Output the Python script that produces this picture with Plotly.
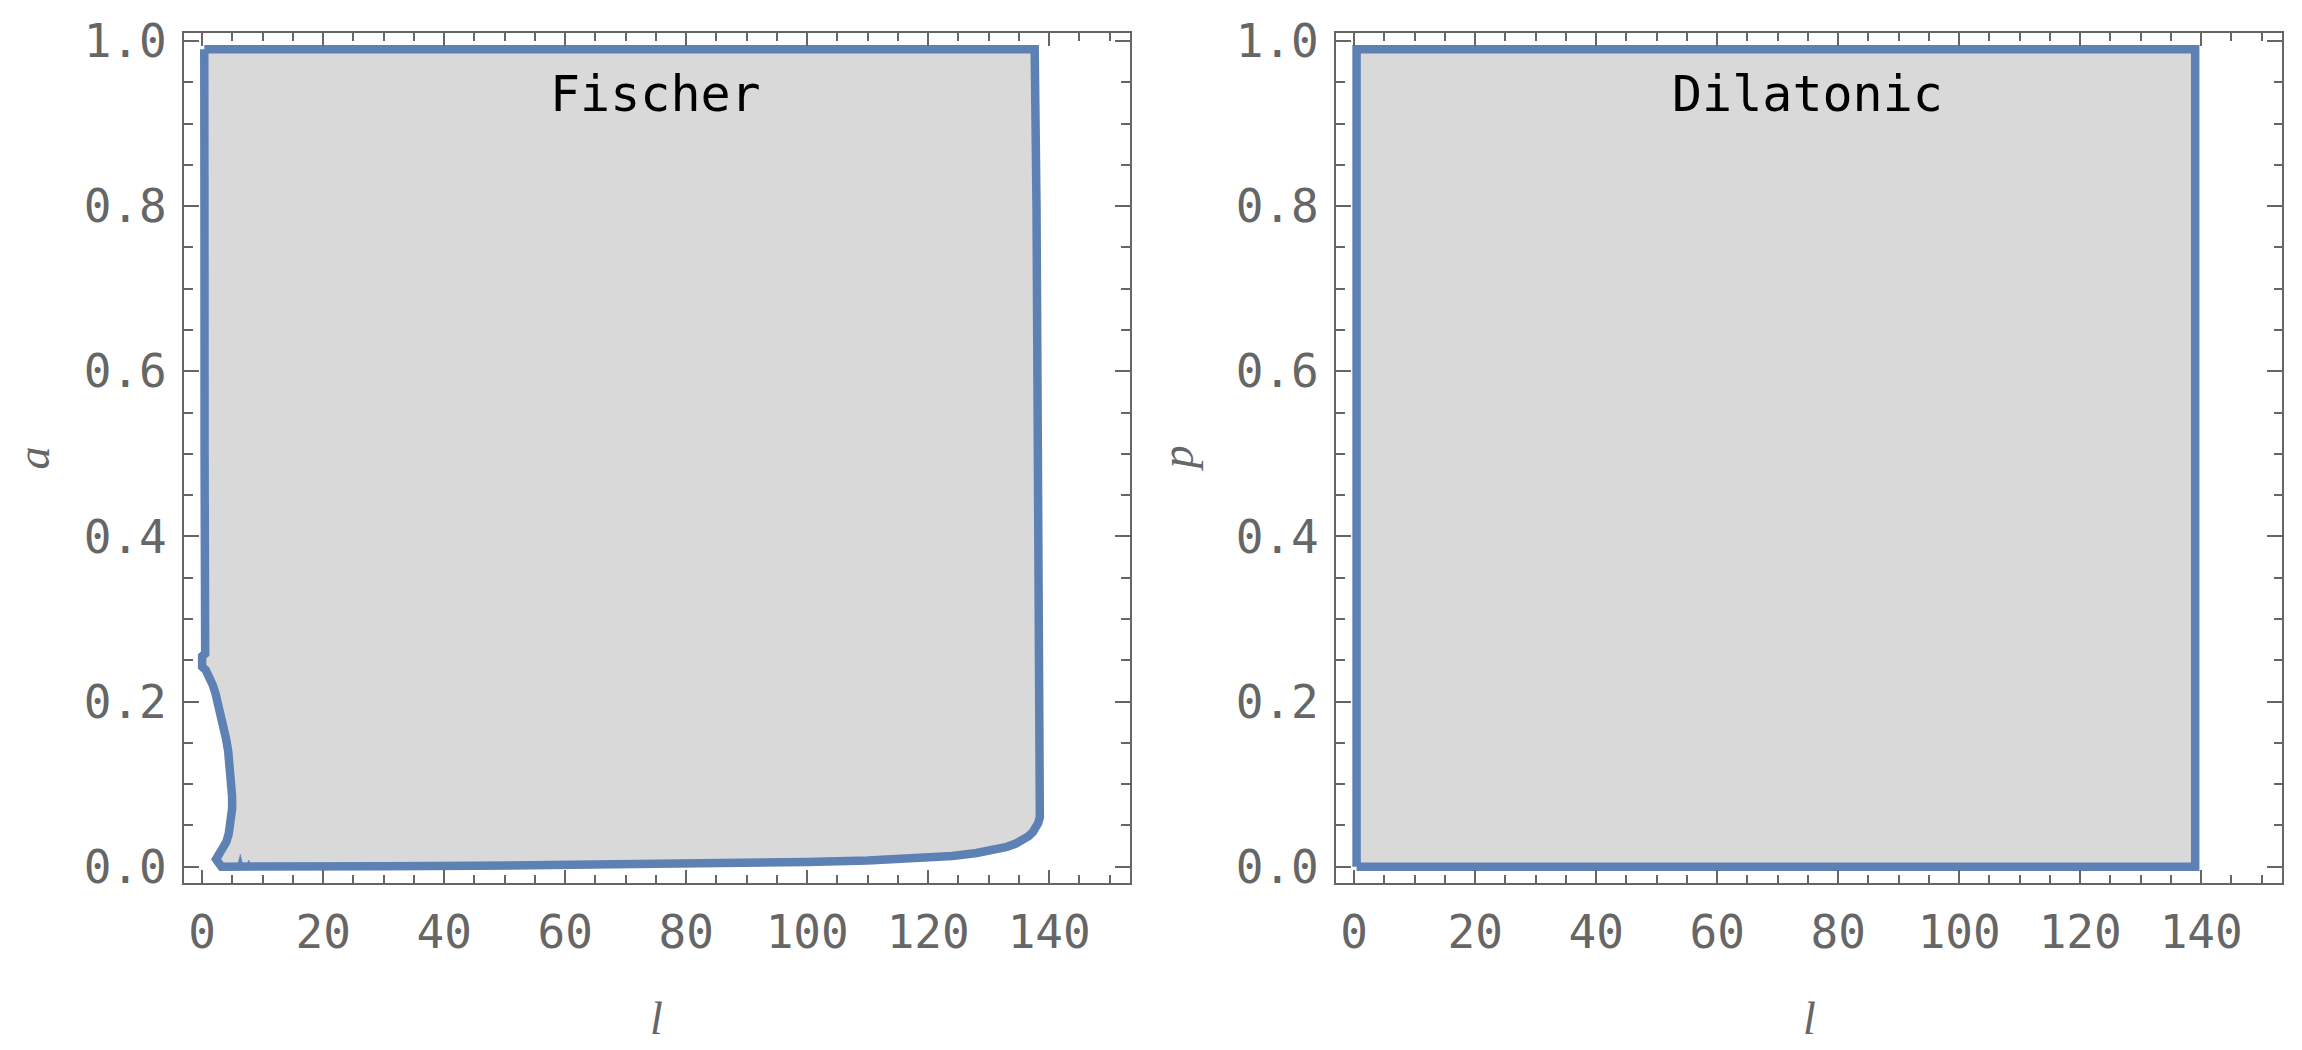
import plotly.graph_objects as go
from plotly.subplots import make_subplots

# ---- data ----
fischer_l = [0.35, 137.6, 137.9, 138.2, 138.5, 138.7, 138.7, 138.68, 138.6, 138.45, 138.2,
             137.8, 137.3, 136.6, 135.7, 134.5, 133.0, 131.0, 128.0, 124.0, 118.0, 110.0,
             100.0, 80.0, 60.0, 45.0, 30.0, 15.0, 3.2,
             2.3, 2.9, 3.5, 4.0, 4.4, 4.8, 4.95, 4.95, 4.85, 4.6, 4.3, 3.95, 3.55, 3.1,
             2.6, 2.2, 1.75, 1.2, 0.6, 0.0, 0.0, 0.5, 0.45, 0.4, 0.38, 0.35]
fischer_a = [0.99, 0.99, 0.8, 0.5, 0.3, 0.14, 0.11, 0.085, 0.07, 0.06, 0.053,
             0.047, 0.042, 0.037, 0.0325, 0.028, 0.024, 0.0205, 0.0165, 0.013, 0.0098, 0.0075,
             0.0055, 0.003, 0.0015, 0.001, 0.0005, 0.0, 0.0,
             0.009, 0.015, 0.021, 0.03, 0.04, 0.055, 0.07, 0.085, 0.1, 0.12, 0.14, 0.155,
             0.17, 0.185, 0.2, 0.21, 0.22, 0.23, 0.238, 0.242, 0.255, 0.258, 0.3, 0.5,
             0.8, 0.99]

spike_l = [5.9, 6.3, 6.7, None, 7.4, 7.7, 8.0]
spike_a = [0.003, 0.015, 0.003, None, 0.003, 0.008, 0.003]

dil_l = [0.4, 139.0, 139.0, 0.4, 0.4]
dil_p = [0.0, 0.0, 0.99, 0.99, 0.0]

x_ticks = [0, 20, 40, 60, 80, 100, 120, 140]
y_ticks = [0.0, 0.2, 0.4, 0.6, 0.8, 1.0]
panel_labels = ["Fischer", "Dilatonic"]
y_titles = ["a", "p"]
x_title = "l"

# ---- style ----
BLUE = "#5E81B5"
FILL = "#D9D9D9"
GRAY = "#666666"
MONO = "DejaVu Sans Mono"
SERIF = "Liberation Serif"

fig = make_subplots(rows=1, cols=2, horizontal_spacing=0.0982)

fig.add_trace(go.Scatter(x=fischer_l, y=fischer_a, mode="lines", fill="toself",
                         fillcolor=FILL, line=dict(color=BLUE, width=8.5),
                         hoverinfo="skip", showlegend=False), row=1, col=1)
fig.add_trace(go.Scatter(x=spike_l, y=spike_a, mode="lines", fill="toself",
                         fillcolor=BLUE, line=dict(color=BLUE, width=0.5),
                         hoverinfo="skip", showlegend=False), row=1, col=1)
fig.add_trace(go.Scatter(x=dil_l, y=dil_p, mode="lines", fill="toself",
                         fillcolor=FILL, line=dict(color=BLUE, width=8.5),
                         hoverinfo="skip", showlegend=False), row=1, col=2)

xr = [-3.0, 153.35]
yr = [-0.0198, 1.0098]

for c in (1, 2):
    fig.update_xaxes(row=1, col=c, range=xr, tickvals=x_ticks, ticktext=[str(v) for v in x_ticks],
                     showline=True, linecolor=GRAY, linewidth=2, mirror="allticks",
                     ticks="inside", ticklen=13, tickwidth=2, tickcolor=GRAY,
                     minor=dict(dtick=5, tick0=0, ticks="inside", ticklen=8, tickwidth=2, tickcolor=GRAY),
                     showgrid=False, zeroline=False,
                     tickfont=dict(family=MONO, size=46, color=GRAY),
                     ticklabelstandoff=8)
    fig.update_yaxes(row=1, col=c, range=yr, tickvals=y_ticks, ticktext=[f"{v:.1f}" for v in y_ticks],
                     showline=True, linecolor=GRAY, linewidth=2, mirror="allticks",
                     ticks="inside", ticklen=15, tickwidth=2, tickcolor=GRAY,
                     minor=dict(dtick=0.05, tick0=0, ticks="inside", ticklen=8.5, tickwidth=2, tickcolor=GRAY),
                     showgrid=False, zeroline=False,
                     tickfont=dict(family=MONO, size=46, color=GRAY),
                     ticklabelstandoff=6)

fig.update_xaxes(row=1, col=1, domain=[0.0, 0.4509])
fig.update_xaxes(row=1, col=2, domain=[0.5491, 1.0])

# panel labels (in data coordinates)
for lab, xref, yref in zip(panel_labels, ["x", "x2"], ["y", "y2"]):
    fig.add_annotation(x=75, y=0.936, xref=xref, yref=yref, text=lab, showarrow=False,
                       font=dict(family=MONO, size=50, color="black"),
                       xanchor="center", yanchor="middle")

# axis titles
for xd, t in zip([-0.0722, 0.4734], y_titles):
    fig.add_annotation(x=xd, y=0.5, xref="paper", yref="paper", text=f"<i>{t}</i>",
                       showarrow=False, textangle=-90, borderpad=0,
                       font=dict(family=SERIF, size=46, color=GRAY),
                       xanchor="center", yanchor="middle")
for xd in [0.4509 / 2, (0.5491 + 1.0) / 2]:
    fig.add_annotation(x=xd, y=-0.160, xref="paper", yref="paper", text=f"<i>{x_title}</i>",
                       showarrow=False, font=dict(family=SERIF, size=46, color=GRAY),
                       xanchor="center", yanchor="middle")

# the page body adds an 8 px offset, so the figure is 8 px smaller than the window
fig.update_layout(width=2294, height=1042, margin=dict(l=176, r=20, t=25, b=167, autoexpand=False),
                  paper_bgcolor="white", plot_bgcolor="white", showlegend=False)

fig.write_html("out.html")
